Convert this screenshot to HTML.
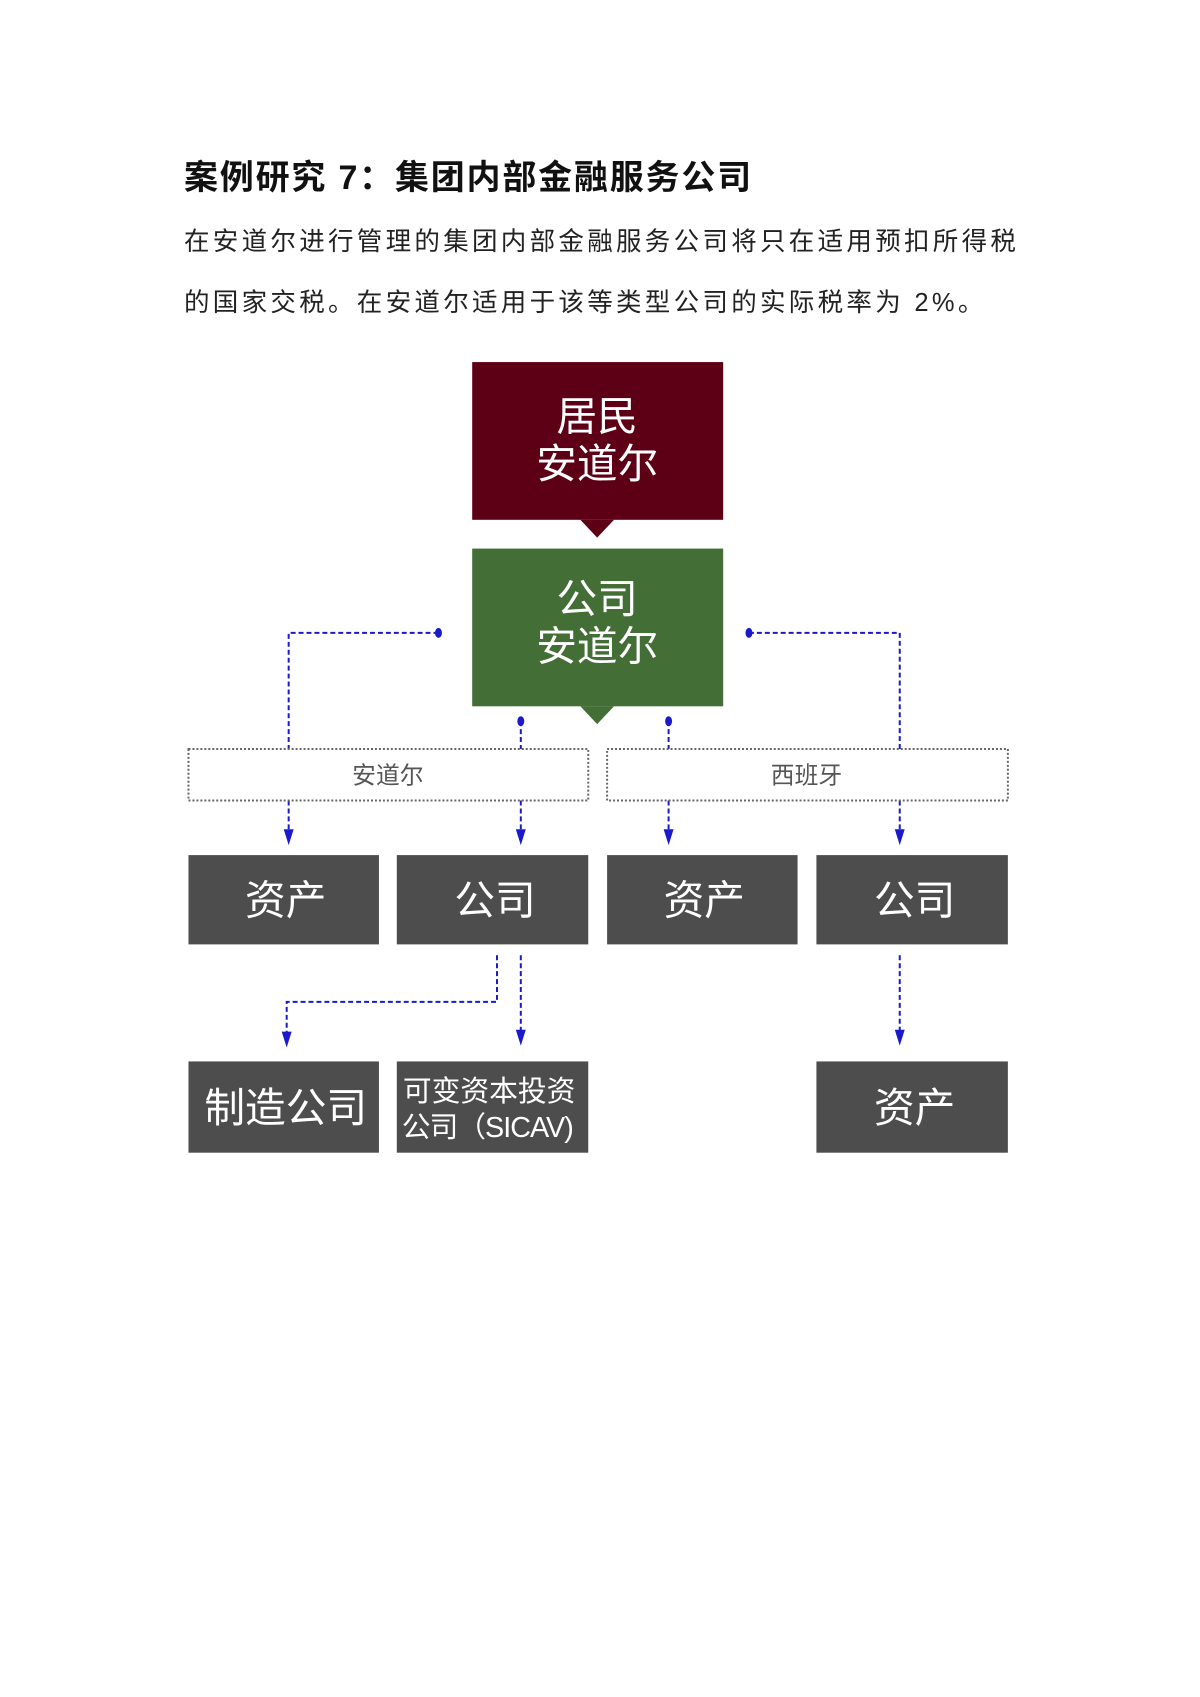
<!DOCTYPE html>
<html><head><meta charset="utf-8"><style>
body{margin:0;background:#fff;}
.p{position:relative;width:1200px;height:1697px;overflow:hidden;font-family:"Liberation Sans","Noto Sans CJK SC",sans-serif;}
.t{position:absolute;white-space:nowrap;}
</style></head><body><div class="p">
<div class="t" style="left:184px;top:150px;font-size:34px;font-weight:bold;color:#111;letter-spacing:1.8px;">案例研究 7：集团内部金融服务公司</div>
<div class="t" style="left:184px;top:221px;font-size:25.5px;color:#222;letter-spacing:3.3px;">在安道尔进行管理的集团内部金融服务公司将只在适用预扣所得税</div>
<div class="t" style="left:184px;top:282px;font-size:25.5px;color:#222;letter-spacing:3.3px;">的国家交税。在安道尔适用于该等类型公司的实际税率为 2%。</div>
<svg width="1200" height="1697" style="position:absolute;left:0;top:0" font-family="Liberation Sans, Noto Sans CJK SC, sans-serif">
<g transform="scale(0.992)">
<rect x="476" y="365" width="253" height="159" fill="#5e0015"/>
<polygon points="585,524 619,524 602,542" fill="#5e0015"/>
<text x="602" y="434" font-size="41" fill="#fff" text-anchor="middle">居民</text>
<text x="602" y="482" font-size="41" fill="#fff" text-anchor="middle">安道尔</text>
<rect x="476" y="553" width="253" height="159" fill="#436f37"/>
<polygon points="585,712 619,712 602,730" fill="#436f37"/>
<text x="602" y="618" font-size="41" fill="#fff" text-anchor="middle">公司</text>
<text x="602" y="666" font-size="41" fill="#fff" text-anchor="middle">安道尔</text>
<g stroke="#1a1acc" stroke-width="2" fill="none" stroke-dasharray="5,3">
<polyline points="442,638 291,638 291,755"/>
<polyline points="755,638 907,638 907,755"/>
<line x1="525" y1="727" x2="525" y2="755"/>
<line x1="674" y1="727" x2="674" y2="755"/>
<line x1="291" y1="807" x2="291" y2="842"/>
<line x1="525" y1="807" x2="525" y2="842"/>
<line x1="674" y1="807" x2="674" y2="842"/>
<line x1="907" y1="807" x2="907" y2="842"/>
<polyline points="501,963 501,1010 289,1010 289,1046"/>
<line x1="525" y1="963" x2="525" y2="1044"/>
<line x1="907" y1="963" x2="907" y2="1044"/>
</g>
<g fill="#1a1acc">
<ellipse cx="442" cy="638" rx="3.5" ry="5"/><ellipse cx="755" cy="638" rx="3.5" ry="5"/>
<ellipse cx="525" cy="727" rx="3.5" ry="5"/><ellipse cx="674" cy="727" rx="3.5" ry="5"/>
<polygon points="286,836 296,836 291,852"/><polygon points="520,836 530,836 525,852"/>
<polygon points="669,836 679,836 674,852"/><polygon points="902,836 912,836 907,852"/>
<polygon points="284,1040 294,1040 289,1056"/><polygon points="520,1038 530,1038 525,1054"/>
<polygon points="902,1038 912,1038 907,1054"/>
</g>
<g fill="none" stroke="#666" stroke-width="2" stroke-dasharray="2,2">
<rect x="190" y="755" width="403" height="52"/>
<rect x="612" y="755" width="404" height="52"/>
</g>
<text x="391" y="790" font-size="24" fill="#555" text-anchor="middle">安道尔</text>
<text x="813" y="790" font-size="24" fill="#555" text-anchor="middle">西班牙</text>
<g fill="#4d4d4d">
<rect x="190" y="862" width="192" height="90"/><rect x="400" y="862" width="193" height="90"/>
<rect x="612" y="862" width="192" height="90"/><rect x="823" y="862" width="193" height="90"/>
<rect x="190" y="1070" width="192" height="92"/><rect x="400" y="1070" width="193" height="92"/>
<rect x="823" y="1070" width="193" height="92"/>
</g>
<g fill="#fff" font-size="41" text-anchor="middle">
<text x="288" y="922">资产</text><text x="499" y="922">公司</text>
<text x="710" y="922">资产</text><text x="922" y="922">公司</text>
<text x="288" y="1131">制造公司</text><text x="922" y="1131">资产</text>
</g>
<text x="580" y="1110" font-size="29" fill="#fff" text-anchor="end">可变资本投资</text>
<text x="405" y="1146" font-size="29" fill="#fff" letter-spacing="-1">公司（SICAV)</text>
</g>
</svg>
</div></body></html>
